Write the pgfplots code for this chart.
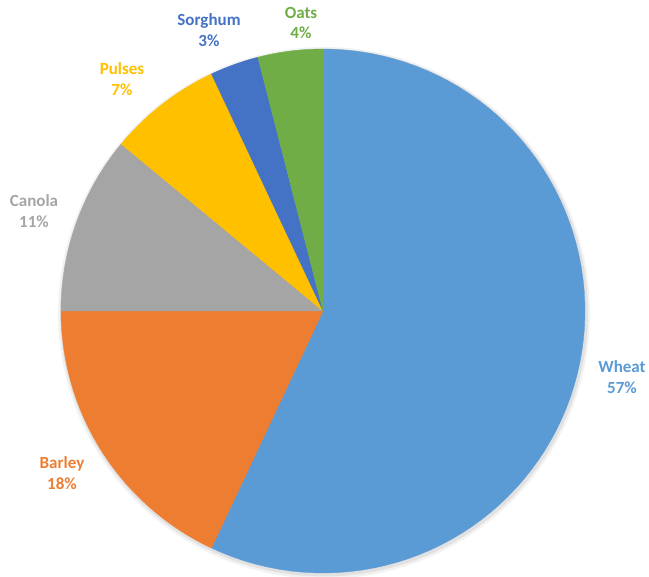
\documentclass[border=0pt]{standalone}
\usepackage{pgfplots}
\usepackage{pgfplotstable}
\pgfplotsset{compat=1.18}
\usepackage{fontspec}
\setmainfont{Carlito}
\definecolor{wheat}{HTML}{5B9BD5}
\definecolor{barley}{HTML}{ED7D31}
\definecolor{canola}{HTML}{A5A5A5}
\definecolor{pulses}{HTML}{FFC000}
\definecolor{sorghum}{HTML}{4472C4}
\definecolor{oats}{HTML}{70AD47}
\pgfplotstableread{
name value color
Wheat 57 wheat
Barley 18 barley
Canola 11 canola
Pulses 7 pulses
Sorghum 3 sorghum
Oats 4 oats
}\piedata
\def\cx{323}\def\cy{311}\def\rr{262}
\begin{document}
\begin{tikzpicture}
\begin{axis}[
  name=ax,
  x=1pt, y=1pt, scale only axis,
  xmin=0, xmax=649, ymin=0, ymax=577,
  y dir=reverse, axis lines=none, clip=false,
  trig format plots=deg,
]
% soft shadow
\addplot[fill=black, fill opacity=0.05, draw=none, domain=0:360, samples=120, variable=\t]
  ({\cx+1+(\rr+4)*cos(t)}, {\cy+2+(\rr+4)*sin(t)}) -- cycle;
\addplot[fill=black, fill opacity=0.07, draw=none, domain=0:360, samples=120, variable=\t]
  ({\cx+1+(\rr+2)*cos(t)}, {\cy+1.5+(\rr+2)*sin(t)}) -- cycle;
\pgfplotstablegetrowsof{\piedata}
\pgfmathtruncatemacro\N{\pgfplotsretval-1}
\gdef\cum{0}
\pgfplotsinvokeforeach{0,...,\N}{
  \pgfplotstablegetelem{#1}{value}\of\piedata \let\v\pgfplotsretval
  \pgfplotstablegetelem{#1}{color}\of\piedata \let\c\pgfplotsretval
  \pgfmathsetmacro\a{90-3.6*\cum}
  \pgfmathsetmacro\b{90-3.6*(\cum+\v)}
  \edef\tmp{\noexpand\addplot[fill=\c, draw=\c, line width=0.3pt, domain=\b:\a, samples=80, variable=\noexpand\t]
    ({\cx+\rr*cos(\noexpand\t)}, {\cy-\rr*sin(\noexpand\t)}) -- (axis cs:\cx,\cy) -- cycle;}
  \tmp
  \pgfmathsetmacro\newcum{\cum+\v}
  \global\let\cum\newcum
}
\tikzset{lab/.style={font=\fontsize{17}{20.5}\selectfont\bfseries, align=center, inner sep=0pt}}
\node[lab, text=wheat]   at (axis cs:622,377) {Wheat\\57\%};
\node[lab, text=barley]  at (axis cs:62,473)  {Barley\\18\%};
\node[lab, text=canola]  at (axis cs:34,211)  {Canola\\11\%};
\node[lab, text=pulses]  at (axis cs:122,79)  {Pulses\\7\%};
\node[lab, text=sorghum] at (axis cs:209,30)  {Sorghum\\3\%};
\node[lab, text=oats]    at (axis cs:301,23)  {Oats\\4\%};
\end{axis}
\pgfresetboundingbox
\path[use as bounding box] (ax.south west) rectangle (ax.north east);
\end{tikzpicture}
\end{document}
